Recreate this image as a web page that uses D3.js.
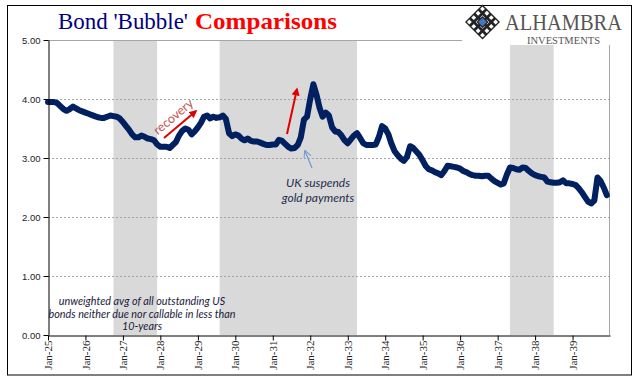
<!DOCTYPE html>
<html><head><meta charset="utf-8">
<script src="https://cdn.jsdelivr.net/npm/d3@7/dist/d3.min.js"></script>
<style>body{margin:0;background:#fff;} svg{display:block}</style>
</head><body>
<svg id="chart" width="641" height="381"></svg>
<script>
// ---------- data ----------
const titleMain = "Bond 'Bubble'";
const titleAccent = "Comparisons";
const years = [1925,1926,1927,1928,1929,1930,1931,1932,1933,1934,1935,1936,1937,1938,1939];
const y1925 = [3.95,3.95,3.95,3.93,3.88,3.83,3.80,3.83,3.87,3.84,3.81,3.79];
const y1926 = [3.77,3.75,3.73,3.71,3.69,3.68,3.68,3.70,3.72,3.71,3.70,3.67];
const y1927 = [3.61,3.54,3.48,3.40,3.35,3.35,3.38,3.36,3.33,3.32,3.30,3.23];
const y1928 = [3.19,3.19,3.19,3.17,3.22,3.27,3.38,3.46,3.50,3.48,3.40,3.45];
const y1929 = [3.52,3.60,3.70,3.72,3.67,3.70,3.68,3.69,3.72,3.66,3.42,3.37];
const y1930 = [3.40,3.38,3.33,3.30,3.33,3.29,3.28,3.28,3.26,3.24,3.22,3.22];
const y1931 = [3.23,3.23,3.31,3.29,3.24,3.19,3.16,3.17,3.22,3.35,3.65,3.70];
const y1932 = [4.00,4.25,4.08,3.85,3.70,3.77,3.72,3.52,3.45,3.44,3.38,3.30];
const y1933 = [3.25,3.32,3.38,3.42,3.34,3.25,3.22,3.22,3.22,3.23,3.36,3.54];
const y1934 = [3.50,3.40,3.25,3.12,3.05,2.99,2.95,3.02,3.20,3.17,3.11,3.05];
const y1935 = [2.96,2.86,2.81,2.79,2.76,2.74,2.71,2.78,2.87,2.86,2.85,2.84];
const y1936 = [2.82,2.78,2.76,2.73,2.71,2.70,2.70,2.69,2.70,2.70,2.65,2.61];
const y1937 = [2.58,2.55,2.57,2.72,2.84,2.83,2.81,2.80,2.84,2.83,2.78,2.74];
const y1938 = [2.71,2.69,2.68,2.67,2.60,2.59,2.58,2.58,2.59,2.62,2.57,2.57];
const y1939 = [2.56,2.54,2.49,2.42,2.34,2.26,2.23,2.28,2.67,2.61,2.50,2.37];
const yearlyValues = [y1925,y1926,y1927,y1928,y1929,y1930,y1931,y1932,y1933,y1934,y1935,y1936,y1937,y1938,y1939];
const tickLabels = ["Jan-25","Jan-26","Jan-27","Jan-28","Jan-29","Jan-30","Jan-31","Jan-32","Jan-33","Jan-34","Jan-35","Jan-36","Jan-37","Jan-38","Jan-39"];
const yTicks = [0,1,2,3,4,5];
const recessionStarts = ["1926-10","1929-08","1937-05"];
const recessionEnds = ["1927-12","1933-04","1938-07"];
const noteLines = ["unweighted avg of all outstanding US","bonds neither due nor callable in less than","10-years"];
const ukLines = ["UK suspends","gold payments"];
const recoveryLabel = "recovery";
const logoName = "ALHAMBRA";
const logoSub = "INVESTMENTS";

// ---------- build ----------
const parseM = d3.timeParse("%Y-%m");
const data = [];
years.forEach((yr, yi) => yearlyValues[yi].forEach((v, mi) => data.push({date: new Date(yr, mi, 1), value: v})));
const tickDates = years.map(yr => new Date(yr, 0, 1));

const svg = d3.select("#chart");
const L = 48, R = 609, T = 40, B = 335;
const x = d3.scaleTime().domain([new Date(1925,0,1), new Date(1940,0,1)]).range([L, 610]);
const y = d3.scaleLinear().domain([0,5]).range([B, T]);

svg.append("rect").attr("width",641).attr("height",381).attr("fill","#fff");
svg.append("rect").attr("x",7.5).attr("y",5.5).attr("width",624).attr("height",369.5)
  .attr("fill","none").attr("stroke","#000").attr("stroke-width",1);

// recession bands
svg.append("g").selectAll("rect").data(recessionStarts.map((s,i)=>[parseM(s), parseM(recessionEnds[i])]))
  .join("rect")
  .attr("x", d => x(d[0])).attr("width", d => x(d[1]) - x(d[0]))
  .attr("y", T).attr("height", B - T).attr("fill", "#d9d9d9");

// gridlines
svg.append("g").selectAll("line").data(yTicks.filter(t => t > 0 && t < 5)).join("line")
  .attr("x1", L).attr("x2", R).attr("y1", d => Math.round(y(d))+0.5).attr("y2", d => Math.round(y(d))+0.5)
  .attr("stroke", "#a6a6a6").attr("stroke-dasharray", "2,2").attr("stroke-width", 1);
svg.append("path").attr("d", `M${L},${T+0.5}H${R+0.5}V${B}`).attr("fill","none").attr("stroke","#a6a6a6");

// series line
svg.append("path").datum(data)
  .attr("d", d3.line().x(d => x(d.date)).y(d => y(d.value)))
  .attr("fill","none").attr("stroke","#002060").attr("stroke-width",6)
  .attr("stroke-linejoin","round").attr("stroke-linecap","round");

// axes
const yAxis = svg.append("g").attr("transform", `translate(${L+0.5},0)`)
  .call(d3.axisLeft(y).tickValues(yTicks).tickFormat(d3.format(".2f")).tickSize(5).tickSizeOuter(0));
yAxis.selectAll("text").attr("font-family","Liberation Sans, Arial, sans-serif").attr("font-size",9.5).attr("fill","#222").attr("x",-8);
yAxis.selectAll("path,line").attr("stroke","#000");

const xAxis = svg.append("g").attr("transform", `translate(0,${B+0.5})`)
  .call(d3.axisBottom(x).tickValues(tickDates).tickFormat((d,i) => tickLabels[i]).tickSize(5).tickSizeOuter(0));
xAxis.selectAll("path,line").attr("stroke","#000");
xAxis.selectAll("text").attr("font-family","Liberation Serif, Times New Roman, serif").attr("font-size",11).attr("fill","#222")
  .attr("transform","rotate(-90)").attr("text-anchor","end").attr("x",-5).attr("y",0).attr("dy","0.33em");

// markers
const defs = svg.append("defs");
defs.append("marker").attr("id","redhead").attr("viewBox","0 0 10 10").attr("refX",8).attr("refY",5)
  .attr("markerWidth",4).attr("markerHeight",4).attr("orient","auto")
  .append("path").attr("d","M0,0L10,5L0,10z").attr("fill","#e00000");
defs.append("marker").attr("id","bluehead").attr("viewBox","0 0 10 10").attr("refX",9).attr("refY",5)
  .attr("markerWidth",8).attr("markerHeight",8).attr("markerUnits","userSpaceOnUse").attr("orient","auto")
  .append("path").attr("d","M0,0L10,5L0,10").attr("fill","none").attr("stroke","#6f9ad3").attr("stroke-width",1.2);

// annotations
svg.append("line").attr("x1",164).attr("y1",138).attr("x2",196).attr("y2",111)
  .attr("stroke","#e00000").attr("stroke-width",2).attr("marker-end","url(#redhead)");
svg.append("line").attr("x1",287).attr("y1",134).attr("x2",297).attr("y2",89)
  .attr("stroke","#e00000").attr("stroke-width",2).attr("marker-end","url(#redhead)");
svg.append("line").attr("x1",312).attr("y1",168).attr("x2",305).attr("y2",151)
  .attr("stroke","#6f9ad3").attr("stroke-width",1.2).attr("marker-end","url(#bluehead)");

svg.append("text").attr("transform","translate(176,120) rotate(-40)").attr("text-anchor","middle")
  .attr("font-family","Lato, Open Sans, sans-serif").attr("font-size",12.5).attr("fill","#c0504d")
  .text(recoveryLabel);

svg.append("g").selectAll("text").data(ukLines).join("text")
  .attr("x",318).attr("y",(d,i)=>187+i*15).attr("text-anchor","middle")
  .attr("font-family","Lato, Open Sans, sans-serif").attr("font-style","italic").attr("font-size",12).attr("fill","#1f2d4d")
  .text(d=>d);

svg.append("g").selectAll("text").data(noteLines).join("text")
  .attr("x",142).attr("y",(d,i)=>305+i*12.5).attr("text-anchor","middle")
  .attr("font-family","Lato, Open Sans, sans-serif").attr("font-style","italic").attr("font-size",10.8).attr("fill","#1a1a3a")
  .text(d=>d);

// title
svg.append("text").attr("x",58).attr("y",29)
  .attr("font-family","Liberation Serif, Times New Roman, serif").attr("font-size",23)
  .attr("fill","#000080").attr("textLength",130).attr("lengthAdjust","spacingAndGlyphs").text(titleMain);
svg.append("text").attr("x",195).attr("y",29)
  .attr("font-family","Liberation Serif, Times New Roman, serif").attr("font-size",23).attr("font-weight","bold")
  .attr("fill","#ff0000").attr("textLength",142).attr("lengthAdjust","spacingAndGlyphs").text(titleAccent);

// logo
const logo = svg.append("g");
logo.append("rect").attr("x",462).attr("y",6).attr("width",169).attr("height",39).attr("fill","#fff");
const cx = 482.5, cy = 22, hs = 17.5;
const lg = logo.append("g").attr("transform",`translate(${cx},${cy}) rotate(45)`);
const s = hs/Math.SQRT2;
lg.append("rect").attr("x",-s).attr("y",-s).attr("width",2*s).attr("height",2*s).attr("fill","#222");
const n = 4, cell = 2*s/n;
for (let i=0;i<n;i++) for (let j=0;j<n;j++) {
  lg.append("rect").attr("x",-s+i*cell+cell*0.22).attr("y",-s+j*cell+cell*0.22)
    .attr("width",cell*0.56).attr("height",cell*0.56).attr("fill","#fff");
}
lg.append("rect").attr("x",-cell*0.7).attr("y",-cell*0.7).attr("width",cell*1.4).attr("height",cell*1.4).attr("fill","#222");
lg.append("rect").attr("x",-cell*0.5).attr("y",-cell*0.5).attr("width",cell).attr("height",cell).attr("fill","#3f78c4");
logo.append("text").attr("x",505).attr("y",30).attr("font-family","Liberation Serif, serif").attr("font-size",24)
  .attr("fill","#555").attr("textLength",117).attr("lengthAdjust","spacingAndGlyphs").text(logoName);
logo.append("text").attr("x",527).attr("y",44).attr("font-family","Liberation Serif, serif").attr("font-size",10)
  .attr("fill","#555").attr("textLength",73).attr("lengthAdjust","spacingAndGlyphs").text(logoSub);
</script>
</body></html>
